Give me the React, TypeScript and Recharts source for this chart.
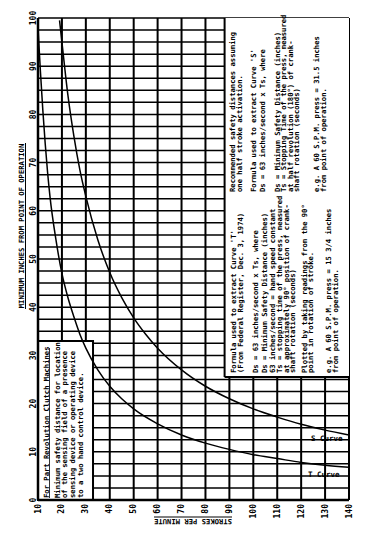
import React from 'react';
import {
  LineChart,
  Line,
  XAxis,
  YAxis,
  CartesianGrid,
  ReferenceArea,
  ReferenceLine
} from 'recharts';

// strokes per minute (x) vs minimum inches from point of operation (y)
const xTicks = [10, 20, 30, 40, 50, 60, 70, 80, 90, 100, 110, 120, 130, 140];
const yLabels = [0, 10, 20, 30, 40, 50, 60, 70, 80, 90, 100];

// curve "S" (half revolution, 31.5 in at 60 spm)
const sStrokes = [19, 20, 22.5, 25, 27.5, 30, 35, 40, 45, 50, 55, 60, 70, 80, 90, 100, 110, 120, 130, 140];
const sInches = [99.5, 95, 84, 75.5, 68.5, 63, 54, 47.2, 42, 37.8, 34.4, 31.5, 27, 23.6, 21, 18.9, 17.2, 15.7, 14.5, 13.5];

// curve "T" (90 degree position, 15 3/4 in at 60 spm)
const tStrokes = [10, 11, 12, 13, 14, 15, 17.5, 20, 22.5, 25, 27.5, 30, 35, 40, 45, 50, 60, 70, 80, 90, 100, 110, 120, 130, 140];
const tInches = [98, 89, 81, 74, 68, 63, 54, 47, 42, 38, 34.4, 31.5, 27, 23.6, 21, 18.9, 15.8, 13.5, 11.8, 10.5, 9.4, 8.6, 7.8, 7.2, 6.8];

const sData = sStrokes.map((s, i) => ({ s, v: sInches[i] }));
const tData = tStrokes.map((s, i) => ({ s, v: tInches[i] }));

// grid every 2.5 inches
const yGrid = Array.from({ length: 41 }, (_, i) => i * 2.5);

const FONT = '"DejaVu Sans Mono", monospace';

const block1: [number, string][] = [
  [234.5, 'Recommended safety distances assuming'],
  [242, 'one half stroke activation.'],
  [256, "Formula used to extract Curve 'S'"],
  [265, 'Ds = 63 inches/second x Ts, where'],
  [280, 'Ds = Minimum Safety Distance (inches)'],
  [286, 'Ts = Stopping Time of the press, measured'],
  [293, 'at half revolution (180°) of crank-'],
  [299, 'shaft rotation (seconds)'],
  [319, 'e.g. A 60 S.P.M. press = 31.5 inches'],
  [325.5, 'from point of operation.']
];

const block2: [number, string][] = [
  [235.5, "Formula used to extract Curve 'T'"],
  [243, '(From Federal Register, Dec. 3, 1974)'],
  [258, 'Ds = 63 inches/second x Ts, where'],
  [267, 'Ds = Minimum Safety Distance (inches)'],
  [275, '63 inches/second = hand speed constant'],
  [282, 'Ts = stopping time of the press, measured'],
  [288.5, 'at approximately 90° position of crank-'],
  [294.5, 'shaft rotation (seconds)'],
  [307, 'Plotted by taking readings from the 90°'],
  [312.5, 'point in rotation of stroke.'],
  [331, 'e.g. A 60 S.P.M. press = 15 3/4 inches'],
  [337.5, 'from point of operation.']
];

const block3: [number, string][] = [
  [48.5, 'For Part Revolution Clutch Machines'],
  [59.5, 'Minimum safety distance for location'],
  [67, 'of the sensing field of a presence'],
  [75, 'sensing device or operating device'],
  [83, 'to a two hand control device.']
];

const Paragraph = ({ lines, y }: { lines: [number, string][]; y: number }) => (
  <g>
    {lines.map(([x, t], i) => (
      <text
        key={i}
        x={x}
        y={y}
        transform={`rotate(-90 ${x} ${y})`}
        fontFamily={FONT}
        fontSize={7.2}
        fontWeight="bold"
        fill="#000"
      >
        {t}
      </text>
    ))}
  </g>
);

const YTick = (props: any) => {
  const { y, payload } = props;
  if (!yLabels.includes(payload.value)) return <g />;
  return (
    <text
      x={36}
      y={y}
      transform={`rotate(-90 36 ${y})`}
      textAnchor="middle"
      fontFamily={FONT}
      fontSize={8}
      fontWeight="bold"
      fill="#000"
    >
      {payload.value}
    </text>
  );
};

const XTick = (props: any) => {
  const { x, payload } = props;
  return (
    <text
      x={x}
      y={504}
      transform={`rotate(-90 ${x} 504)`}
      textAnchor="end"
      dominantBaseline="central"
      fontFamily={FONT}
      fontSize={8}
      fontWeight="bold"
      fill="#000"
    >
      {payload.value}
    </text>
  );
};

export default function App() {
  return (
    <div style={{ position: 'absolute', left: 0, top: 0, width: 390, height: 541, background: '#fff' }}>
      <LineChart width={390} height={541} margin={{ top: 18, right: 41, bottom: 0, left: 0 }}>
        <CartesianGrid vertical={false} stroke="#000" strokeWidth={1.5} />
        <CartesianGrid horizontal={false} stroke="#000" strokeWidth={2} />
        <XAxis
          type="number"
          dataKey="s"
          domain={[10, 140]}
          ticks={xTicks}
          interval={0}
          height={41}
          tick={<XTick />}
          tickLine={false}
          axisLine={{ stroke: '#000', strokeWidth: 2.5 }}
          allowDataOverflow
        />
        <YAxis
          type="number"
          dataKey="v"
          domain={[0, 100]}
          ticks={yGrid}
          interval={0}
          width={38}
          tick={<YTick />}
          tickLine={false}
          axisLine={{ stroke: '#000', strokeWidth: 2.5 }}
          allowDataOverflow
        />
        <ReferenceArea x1={88} x2={140} y1={25.5} y2={100} fill="#fff" fillOpacity={1} stroke="none" ifOverflow="visible" />
        <ReferenceLine segment={[{ x: 88, y: 25.5 }, { x: 88, y: 100 }]} stroke="#000" strokeWidth={2} ifOverflow="visible" />
        <ReferenceLine segment={[{ x: 88, y: 25.5 }, { x: 140, y: 25.5 }]} stroke="#000" strokeWidth={2} ifOverflow="visible" />
        <ReferenceArea x1={10} x2={33} y1={0} y2={33} fill="#fff" fillOpacity={1} stroke="#000" strokeWidth={2} ifOverflow="visible" />
        <Line data={sData} dataKey="v" type="monotone" stroke="#000" strokeWidth={1.5} dot={false} isAnimationActive={false} />
        <Line data={tData} dataKey="v" type="monotone" stroke="#000" strokeWidth={1.5} dot={false} isAnimationActive={false} />
      </LineChart>
      <svg width={390} height={541} style={{ position: 'absolute', left: 0, top: 0, pointerEvents: 'none' }}>
        <g>
          <text x={24} y={226} transform="rotate(-90 24 226)" textAnchor="middle" fontFamily={FONT} fontSize={7.2} fontWeight="bold">
            MINIMUM INCHES FROM POINT OF OPERATION
          </text>
          <line x1={25.5} y1={143} x2={25.5} y2={309} stroke="#000" strokeWidth={1} />
        </g>
        <g>
          <text x={193} y={518.5} transform="rotate(180 193 518.5)" textAnchor="middle" fontFamily={FONT} fontSize={7.2} fontWeight="bold">
            STROKES PER MINUTE
          </text>
          <line x1={154} y1={517} x2={232} y2={517} stroke="#000" strokeWidth={1} />
        </g>
        <Paragraph lines={block1} y={192} />
        <Paragraph lines={block2} y={373} />
        <Paragraph lines={block3} y={498} />
        <line x1={49.5} y1={498} x2={49.5} y2={348} stroke="#000" strokeWidth={0.8} />
        <text x={311} y={441} fontFamily={FONT} fontSize={7.5} fontWeight="bold">S Curve</text>
        <text x={308} y={477} fontFamily={FONT} fontSize={7.5} fontWeight="bold">T Curve</text>
      </svg>
    </div>
  );
}
